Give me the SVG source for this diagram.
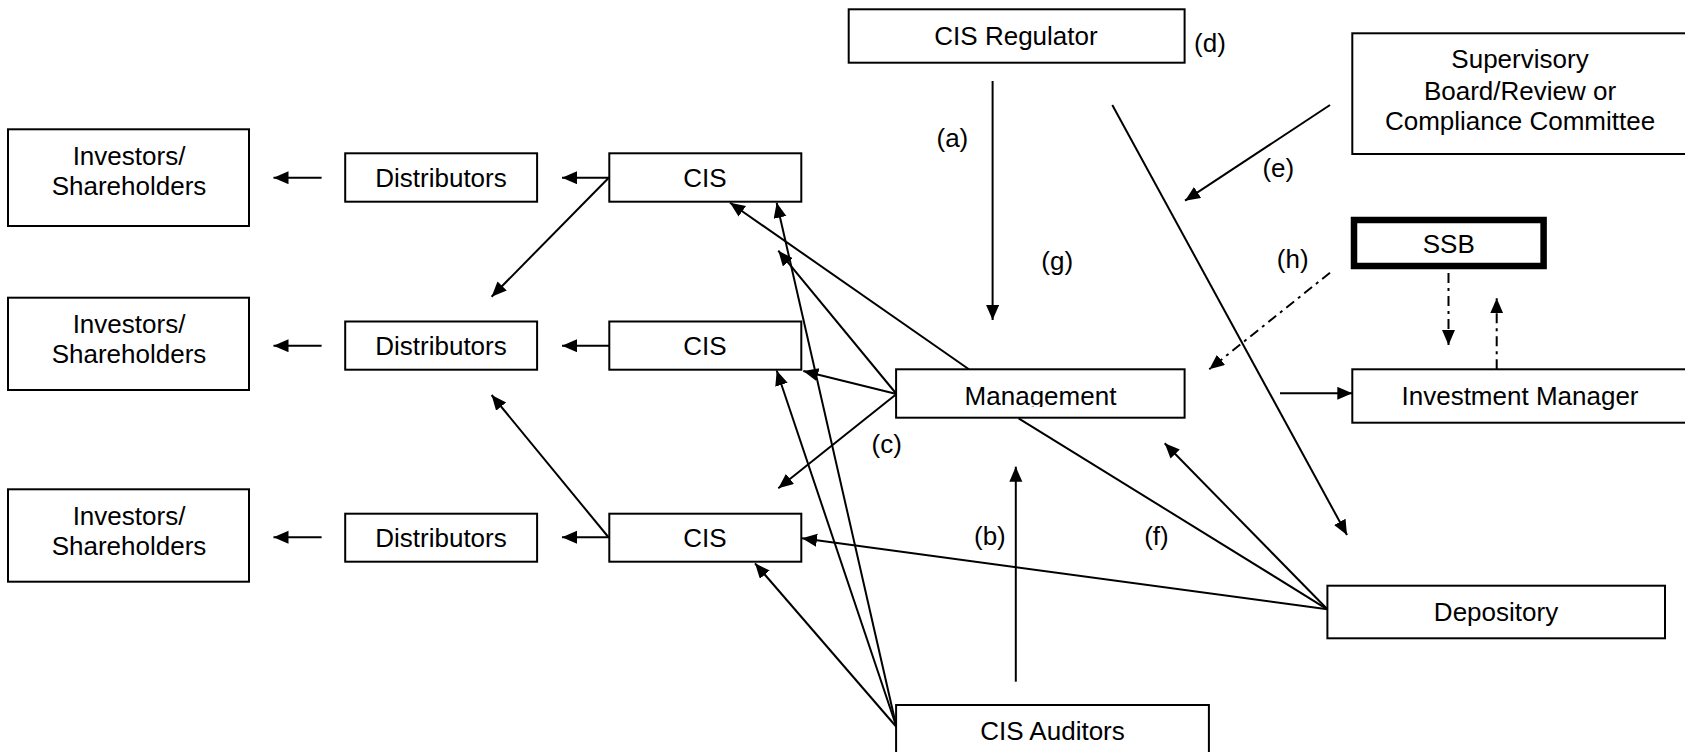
<svg xmlns="http://www.w3.org/2000/svg" width="1685" height="752" viewBox="0 0 1685 752">
<style>
.box{fill:#fff;stroke:#000;stroke-width:2}
.thick{fill:#fff;stroke:#000;stroke-width:6.5}
.t{font-family:"Liberation Sans",Arial,Helvetica,sans-serif;font-size:26px;fill:#000;text-anchor:middle}
.c{fill:none;stroke:#000;stroke-width:2}
.dd{fill:none;stroke:#000;stroke-width:2;stroke-dasharray:10 5 3 5}
</style>
<defs>
<marker id="ah" markerUnits="userSpaceOnUse" markerWidth="16" markerHeight="14" refX="15" refY="6.5" orient="auto">
<path d="M0,0 L15,6.5 L0,13 z" fill="#000"/>
</marker>
<clipPath id="mclip"><rect x="896" y="369" width="289" height="38"/></clipPath>
</defs>
<rect width="1685" height="752" fill="#fff"/>

<g id="connectors">
<line class="c" x1="321.6" y1="177.7" x2="273.5" y2="177.7" marker-end="url(#ah)"/>
<line class="c" x1="321.6" y1="345.7" x2="273.5" y2="345.7" marker-end="url(#ah)"/>
<line class="c" x1="321.6" y1="537.3" x2="273.5" y2="537.3" marker-end="url(#ah)"/>
<line class="c" x1="609" y1="177.7" x2="562" y2="177.7" marker-end="url(#ah)"/>
<line class="c" x1="609" y1="345.7" x2="562" y2="345.7" marker-end="url(#ah)"/>
<line class="c" x1="609" y1="537.3" x2="562" y2="537.3" marker-end="url(#ah)"/>
<line class="c" x1="608.3" y1="178.3" x2="491.6" y2="296.7" marker-end="url(#ah)"/>
<line class="c" x1="608.3" y1="537" x2="491.6" y2="395" marker-end="url(#ah)"/>
<line class="c" x1="968.9" y1="369.3" x2="730" y2="202.7" marker-end="url(#ah)"/>
<line class="c" x1="896.5" y1="394" x2="778.3" y2="250.7" marker-end="url(#ah)"/>
<line class="c" x1="896.5" y1="394" x2="803.3" y2="371" marker-end="url(#ah)"/>
<line class="c" x1="896.5" y1="394" x2="778.3" y2="488.3" marker-end="url(#ah)"/>
<line class="c" x1="896.5" y1="727" x2="776.7" y2="202.7" marker-end="url(#ah)"/>
<line class="c" x1="896.5" y1="727" x2="776.7" y2="370.5" marker-end="url(#ah)"/>
<line class="c" x1="896.5" y1="727" x2="755" y2="563.3" marker-end="url(#ah)"/>
<line class="c" x1="1327.4" y1="609.3" x2="802" y2="538.3" marker-end="url(#ah)"/>
<line class="c" x1="1327.4" y1="609.3" x2="1164.7" y2="443.3" marker-end="url(#ah)"/>
<line class="c" x1="1327.4" y1="609.3" x2="1018.6" y2="418.3"/>
<line class="c" x1="992.6" y1="81" x2="992.6" y2="320" marker-end="url(#ah)"/>
<line class="c" x1="1015.8" y1="681.7" x2="1015.8" y2="466.7" marker-end="url(#ah)"/>
<line class="c" x1="1112.3" y1="105" x2="1347" y2="535" marker-end="url(#ah)"/>
<line class="c" x1="1330" y1="105" x2="1185" y2="200.7" marker-end="url(#ah)"/>
<line class="dd" x1="1330" y1="272.7" x2="1209.3" y2="369.3" marker-end="url(#ah)"/>
<line class="dd" x1="1448.5" y1="273" x2="1448.5" y2="345" marker-end="url(#ah)"/>
<line class="dd" x1="1496.7" y1="369.3" x2="1496.7" y2="298.3" marker-end="url(#ah)"/>
<line class="c" x1="1280" y1="393.3" x2="1352.3" y2="393.3" marker-end="url(#ah)"/>
</g>

<g id="labels">
<text class="t" x="952.4" y="146.7">(a)</text>
<text class="t" x="1210" y="51.7">(d)</text>
<text class="t" x="1278.3" y="176.7">(e)</text>
<text class="t" x="1057.2" y="270">(g)</text>
<text class="t" x="1292.7" y="268.3">(h)</text>
<text class="t" x="886.7" y="453.3">(c)</text>
<text class="t" x="989.9" y="545">(b)</text>
<text class="t" x="1156.4" y="545">(f)</text>
</g>

<g id="inv1"><rect class="box" x="8" y="129.3" width="241" height="96.7"/><text class="t" x="129" y="165">Investors/</text><text class="t" x="129" y="194.5">Shareholders</text></g>
<g id="inv2"><rect class="box" x="8" y="297.7" width="241" height="92.3"/><text class="t" x="129" y="333">Investors/</text><text class="t" x="129" y="362.5">Shareholders</text></g>
<g id="inv3"><rect class="box" x="8" y="489.3" width="241" height="92.4"/><text class="t" x="129" y="525">Investors/</text><text class="t" x="129" y="555">Shareholders</text></g>

<g id="dist1"><rect class="box" x="345.2" y="153.3" width="191.9" height="48.4"/><text class="t" x="441" y="187">Distributors</text></g>
<g id="dist2"><rect class="box" x="345.2" y="321.5" width="191.9" height="48.2"/><text class="t" x="441" y="355">Distributors</text></g>
<g id="dist3"><rect class="box" x="345.2" y="513.7" width="191.9" height="48"/><text class="t" x="441" y="547">Distributors</text></g>

<g id="cis1"><rect class="box" x="609.3" y="153.3" width="192" height="48.4"/><text class="t" x="705" y="187">CIS</text></g>
<g id="cis2"><rect class="box" x="609.3" y="321.5" width="192" height="48.2"/><text class="t" x="705" y="355">CIS</text></g>
<g id="cis3"><rect class="box" x="609.3" y="513.7" width="192" height="48"/><text class="t" x="705" y="547">CIS</text></g>

<g id="regulator"><rect class="box" x="848.7" y="9.3" width="335.9" height="53.4"/><text class="t" x="1016" y="45">CIS Regulator</text></g>
<g id="supervisory"><rect class="box" x="1352.3" y="33.3" width="345" height="120.7"/><text class="t" x="1520" y="68.3">Supervisory</text><text class="t" x="1520" y="100">Board/Review or</text><text class="t" x="1520" y="130">Compliance Committee</text></g>
<g id="ssb"><rect class="thick" x="1354" y="220" width="189.6" height="46"/><text class="t" x="1448.8" y="252.5">SSB</text></g>
<g id="management"><rect class="box" x="896.1" y="369.3" width="288.5" height="48.4"/><text class="t" x="1040.5" y="404.5" clip-path="url(#mclip)">Management</text></g>
<g id="investment-manager"><rect class="box" x="1352.3" y="369.3" width="345" height="53.4"/><text class="t" x="1520" y="405">Investment Manager</text></g>
<g id="depository"><rect class="box" x="1327.4" y="585.7" width="337.6" height="52.6"/><text class="t" x="1496" y="621">Depository</text></g>
<g id="auditors"><rect class="box" x="896.1" y="705" width="312.8" height="60"/><text class="t" x="1052.5" y="740">CIS Auditors</text></g>
</svg>
